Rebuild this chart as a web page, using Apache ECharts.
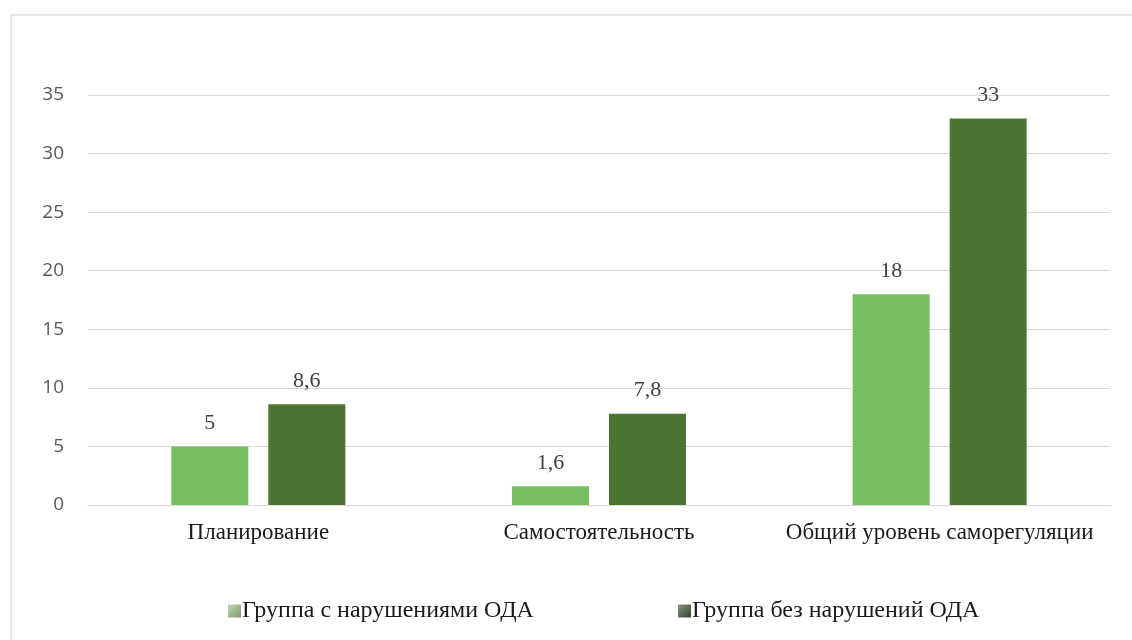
<!DOCTYPE html>
<html><head><meta charset="utf-8">
<script src="https://cdn.jsdelivr.net/npm/echarts@6/dist/echarts.min.js"></script>
<style>html,body{margin:0;padding:0;background:#fff}#c{width:1132px;height:640px}</style>
</head><body><div id="c"></div>
<script>
const categories = ['Планирование', 'Самостоятельность', 'Общий уровень саморегуляции'];
const seriesNames = ['Группа с нарушениями ОДА', 'Группа без нарушений ОДА'];
const withViolations = [5, 1.6, 18];
const withoutViolations = [8.6, 7.8, 33];
const yTicks = [0, 5, 10, 15, 20, 25, 30, 35];

const serif = '"Liberation Serif", "Times New Roman", serif';
const chart = echarts.init(document.getElementById('c'));
const lbl = {
  show: true, position: 'top', distance: 12,
  fontFamily: serif, fontSize: 22, color: '#404040',
  formatter: p => String(p.value).replace('.', ',')
};
const grad = (a, b) => new echarts.graphic.LinearGradient(0, 0, 1, 1, [{ offset: 0, color: a }, { offset: 1, color: b }]);
const legendText = { fontFamily: serif, fontSize: 24, color: '#1a1a1a', padding: [0, 0, 0, -4] };
chart.setOption({
  animation: false,
  graphic: [{
    type: 'rect', shape: { x: 11, y: 15, width: 1140, height: 640 },
    style: { fill: 'none', stroke: '#e6e6e6', lineWidth: 2 }, silent: true, z: -10
  }],
  grid: { left: 88, right: 22, top: 95, bottom: 135 },
  legend: [
    { data: [{ name: seriesNames[0], icon: 'rect', itemStyle: { color: grad('#c4d4b8', '#7c9a68') } }],
      left: 223, top: 594, itemWidth: 13, itemHeight: 13, textStyle: legendText },
    { data: [{ name: seriesNames[1], icon: 'rect', itemStyle: { color: grad('#8a9882', '#334229') } }],
      left: 673, top: 594, itemWidth: 13, itemHeight: 13, textStyle: legendText }
  ],
  xAxis: {
    type: 'category', data: categories,
    axisLine: { lineStyle: { color: '#d9d9d9' } },
    axisTick: { show: false },
    axisLabel: { interval: 0, fontFamily: serif, fontSize: 23, color: '#1a1a1a', margin: 16 }
  },
  yAxis: {
    type: 'value', min: yTicks[0], max: yTicks[yTicks.length - 1], interval: 5,
    axisLine: { show: false }, axisTick: { show: false },
    splitLine: { lineStyle: { color: '#d9d9d9', width: 1 } },
    axisLabel: { fontFamily: '"Open Sans", sans-serif', fontSize: 19, color: '#595959', margin: 24 }
  },
  series: [
    { name: seriesNames[0], type: 'bar', data: withViolations, barWidth: 77, barGap: '26%',
      itemStyle: { color: '#77be62' }, label: lbl },
    { name: seriesNames[1], type: 'bar', data: withoutViolations, barWidth: 77,
      itemStyle: { color: '#4e7434' }, label: lbl }
  ]
});
</script></body></html>
